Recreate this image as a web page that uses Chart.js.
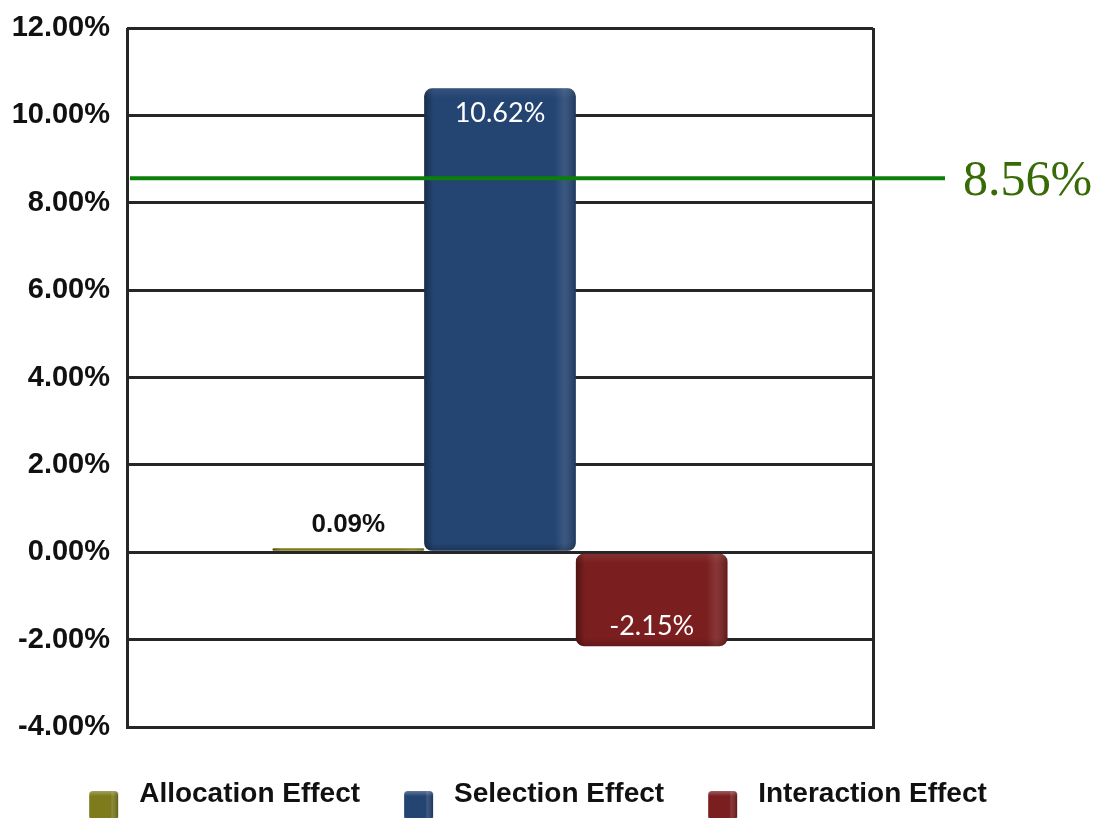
<!DOCTYPE html>
<html>
<head>
<meta charset="utf-8">
<title>Attribution Effects</title>
<script src="https://cdn.jsdelivr.net/npm/chart.js@4.4.1/dist/chart.umd.min.js"></script>
<style>
html, body { margin: 0; padding: 0; background: #fff; }
#wrap { width: 1104px; height: 821px; position: relative; }
</style>
</head>
<body>
<div id="wrap"><canvas id="chartCanvas"></canvas></div>
<script>
var categories = ["Total"];
var seriesNames = ["Allocation Effect", "Selection Effect", "Interaction Effect"];
var seriesValues = [0.09, 10.62, -2.15];
var seriesColors = ["#7d7b1c", "#244472", "#7a1e1f"];
var yMin = -4, yMax = 12, yStep = 2;
var benchmarkValue = 8.56;
var benchmarkLabel = "8.56%";

var gridColor = "#262626";

function pct(v) {
    return v.toFixed(2) + "%";
}

// small box used as legend marker, drawn on the right part of a wider canvas
function legendMarker(color) {
    var c = document.createElement("canvas");
    c.width = 72;
    c.height = 60;
    var g = c.getContext("2d");
    var x = 36, y = 27, s = 29;
    g.beginPath();
    g.roundRect(x, y, s, s, 4);
    g.fillStyle = color;
    g.fill();
    var top = g.createLinearGradient(0, y, 0, y + s);
    top.addColorStop(0, "rgba(255,255,255,0.28)");
    top.addColorStop(0.18, "rgba(255,255,255,0)");
    g.fillStyle = top;
    g.fill();
    var side = g.createLinearGradient(x, 0, x + s, 0);
    side.addColorStop(0.72, "rgba(0,0,0,0)");
    side.addColorStop(0.78, "rgba(255,255,255,0.12)");
    side.addColorStop(1, "rgba(0,0,0,0.22)");
    g.fillStyle = side;
    g.fill();
    return c;
}

var markers = [];
var datasets = [];
for (var i = 0; i < seriesNames.length; i++) {
    markers.push(legendMarker(seriesColors[i]));
    datasets.push({
        label: seriesNames[i],
        data: [seriesValues[i]],
        backgroundColor: seriesColors[i],
        borderRadius: 8,
        borderSkipped: false,
        yAxisID: "y",
        categoryPercentage: 0.61,
        barPercentage: 1.0
    });
}

// darker left edge and lighter right edge on each bar
var barShading = {
    id: "barShading",
    afterDatasetsDraw: function (chart) {
        var ctx = chart.ctx;
        chart.data.datasets.forEach(function (ds, i) {
            var el = chart.getDatasetMeta(i).data[0];
            var p = el.getProps(["x", "y", "base", "width"], true);
            var left = p.x - p.width / 2;
            var top = Math.min(p.y, p.base);
            var h = Math.abs(p.base - p.y);
            ctx.save();
            ctx.beginPath();
            ctx.roundRect(left, top, p.width, h, Math.min(8, h / 2));
            ctx.clip();
            var gr = ctx.createLinearGradient(left, 0, left + p.width, 0);
            gr.addColorStop(0, "rgba(0,0,0,0.35)");
            gr.addColorStop(0.06, "rgba(0,0,0,0)");
            gr.addColorStop(0.86, "rgba(255,255,255,0)");
            gr.addColorStop(0.92, "rgba(255,255,255,0.1)");
            gr.addColorStop(1, "rgba(0,0,0,0.2)");
            ctx.fillStyle = gr;
            ctx.fillRect(left, top, p.width, h);
            var vg = ctx.createLinearGradient(0, top, 0, top + h);
            vg.addColorStop(0, "rgba(255,255,255,0.08)");
            vg.addColorStop(Math.min(1, 10 / h), "rgba(255,255,255,0)");
            vg.addColorStop(Math.max(0, 1 - 8 / h), "rgba(0,0,0,0)");
            vg.addColorStop(1, "rgba(0,0,0,0.2)");
            ctx.fillStyle = vg;
            ctx.fillRect(left, top, p.width, h);
            ctx.restore();
        });
    }
};

// benchmark line across the plot with its value at the right
var benchmarkLine = {
    id: "benchmarkLine",
    afterDatasetsDraw: function (chart) {
        var ctx = chart.ctx;
        var area = chart.chartArea;
        var y = chart.scales.y.getPixelForValue(benchmarkValue);
        ctx.save();
        ctx.strokeStyle = "#0a800a";
        ctx.lineWidth = 4;
        ctx.beginPath();
        ctx.moveTo(area.left + 3, y);
        ctx.lineTo(area.right + 72, y);
        ctx.stroke();
        ctx.fillStyle = "#386b06";
        ctx.font = "50px 'Liberation Serif'";
        ctx.textAlign = "left";
        ctx.textBaseline = "middle";
        ctx.fillText(benchmarkLabel, area.right + 90, y + 4);
        ctx.restore();
    }
};

// value labels: inside the bar end, or above for a very short bar
var valueLabels = {
    id: "valueLabels",
    afterDraw: function (chart) {
        var ctx = chart.ctx;
        ctx.save();
        ctx.textAlign = "center";
        ctx.textBaseline = "middle";
        chart.data.datasets.forEach(function (ds, i) {
            var el = chart.getDatasetMeta(i).data[0];
            var v = ds.data[0];
            var h = Math.abs(el.base - el.y);
            if (h < 40) {
                ctx.fillStyle = "#111";
                ctx.font = "bold 26px 'Liberation Sans'";
                ctx.fillText(pct(v), el.x, el.y - 23);
            } else {
                ctx.fillStyle = "#fff";
                ctx.font = "27px Lato";
                ctx.fillText(pct(v), el.x, v >= 0 ? el.y + 25 : el.y - 20);
            }
        });
        ctx.restore();
    }
};

var ctx = document.getElementById("chartCanvas").getContext("2d");
new Chart(ctx, {
    type: "bar",
    data: {
        labels: categories,
        datasets: datasets
    },
    options: {
        responsive: true,
        maintainAspectRatio: false,
        animation: false,
        layout: {
            padding: { left: 0, right: 64, top: 0, bottom: 3 }
        },
        scales: {
            x: {
                ticks: { display: false },
                grid: { color: gridColor, lineWidth: 3, drawTicks: false },
                border: { display: true, color: gridColor, width: 3 },
                afterFit: function (scale) { scale.height = 45; }
            },
            y: {
                position: "left",
                min: yMin,
                max: yMax,
                ticks: {
                    stepSize: yStep,
                    padding: 17,
                    color: "#111",
                    font: { family: "'Liberation Sans'", size: 29, weight: "bold" },
                    callback: function (v) { return pct(v); }
                },
                grid: { color: gridColor, lineWidth: 3, drawTicks: false },
                border: { display: false },
                afterFit: function (scale) {
                    scale.width = 127;
                    scale.paddingTop = 28;
                }
            },
            y2: {
                position: "right",
                ticks: { display: false },
                grid: { display: false },
                border: { display: false },
                afterFit: function (scale) { scale.width = 167; }
            }
        },
        plugins: {
            tooltip: { enabled: false },
            legend: {
                position: "bottom",
                labels: {
                    usePointStyle: true,
                    pointStyleWidth: 72,
                    padding: 8,
                    color: "#111",
                    font: { family: "'Liberation Sans'", size: 28, weight: "bold" },
                    generateLabels: function (chart) {
                        var items = Chart.defaults.plugins.legend.labels.generateLabels(chart);
                        items.forEach(function (item, i) {
                            item.pointStyle = markers[i];
                        });
                        return items;
                    }
                }
            }
        }
    },
    plugins: [barShading, benchmarkLine, valueLabels]
});
</script>
</body>
</html>
